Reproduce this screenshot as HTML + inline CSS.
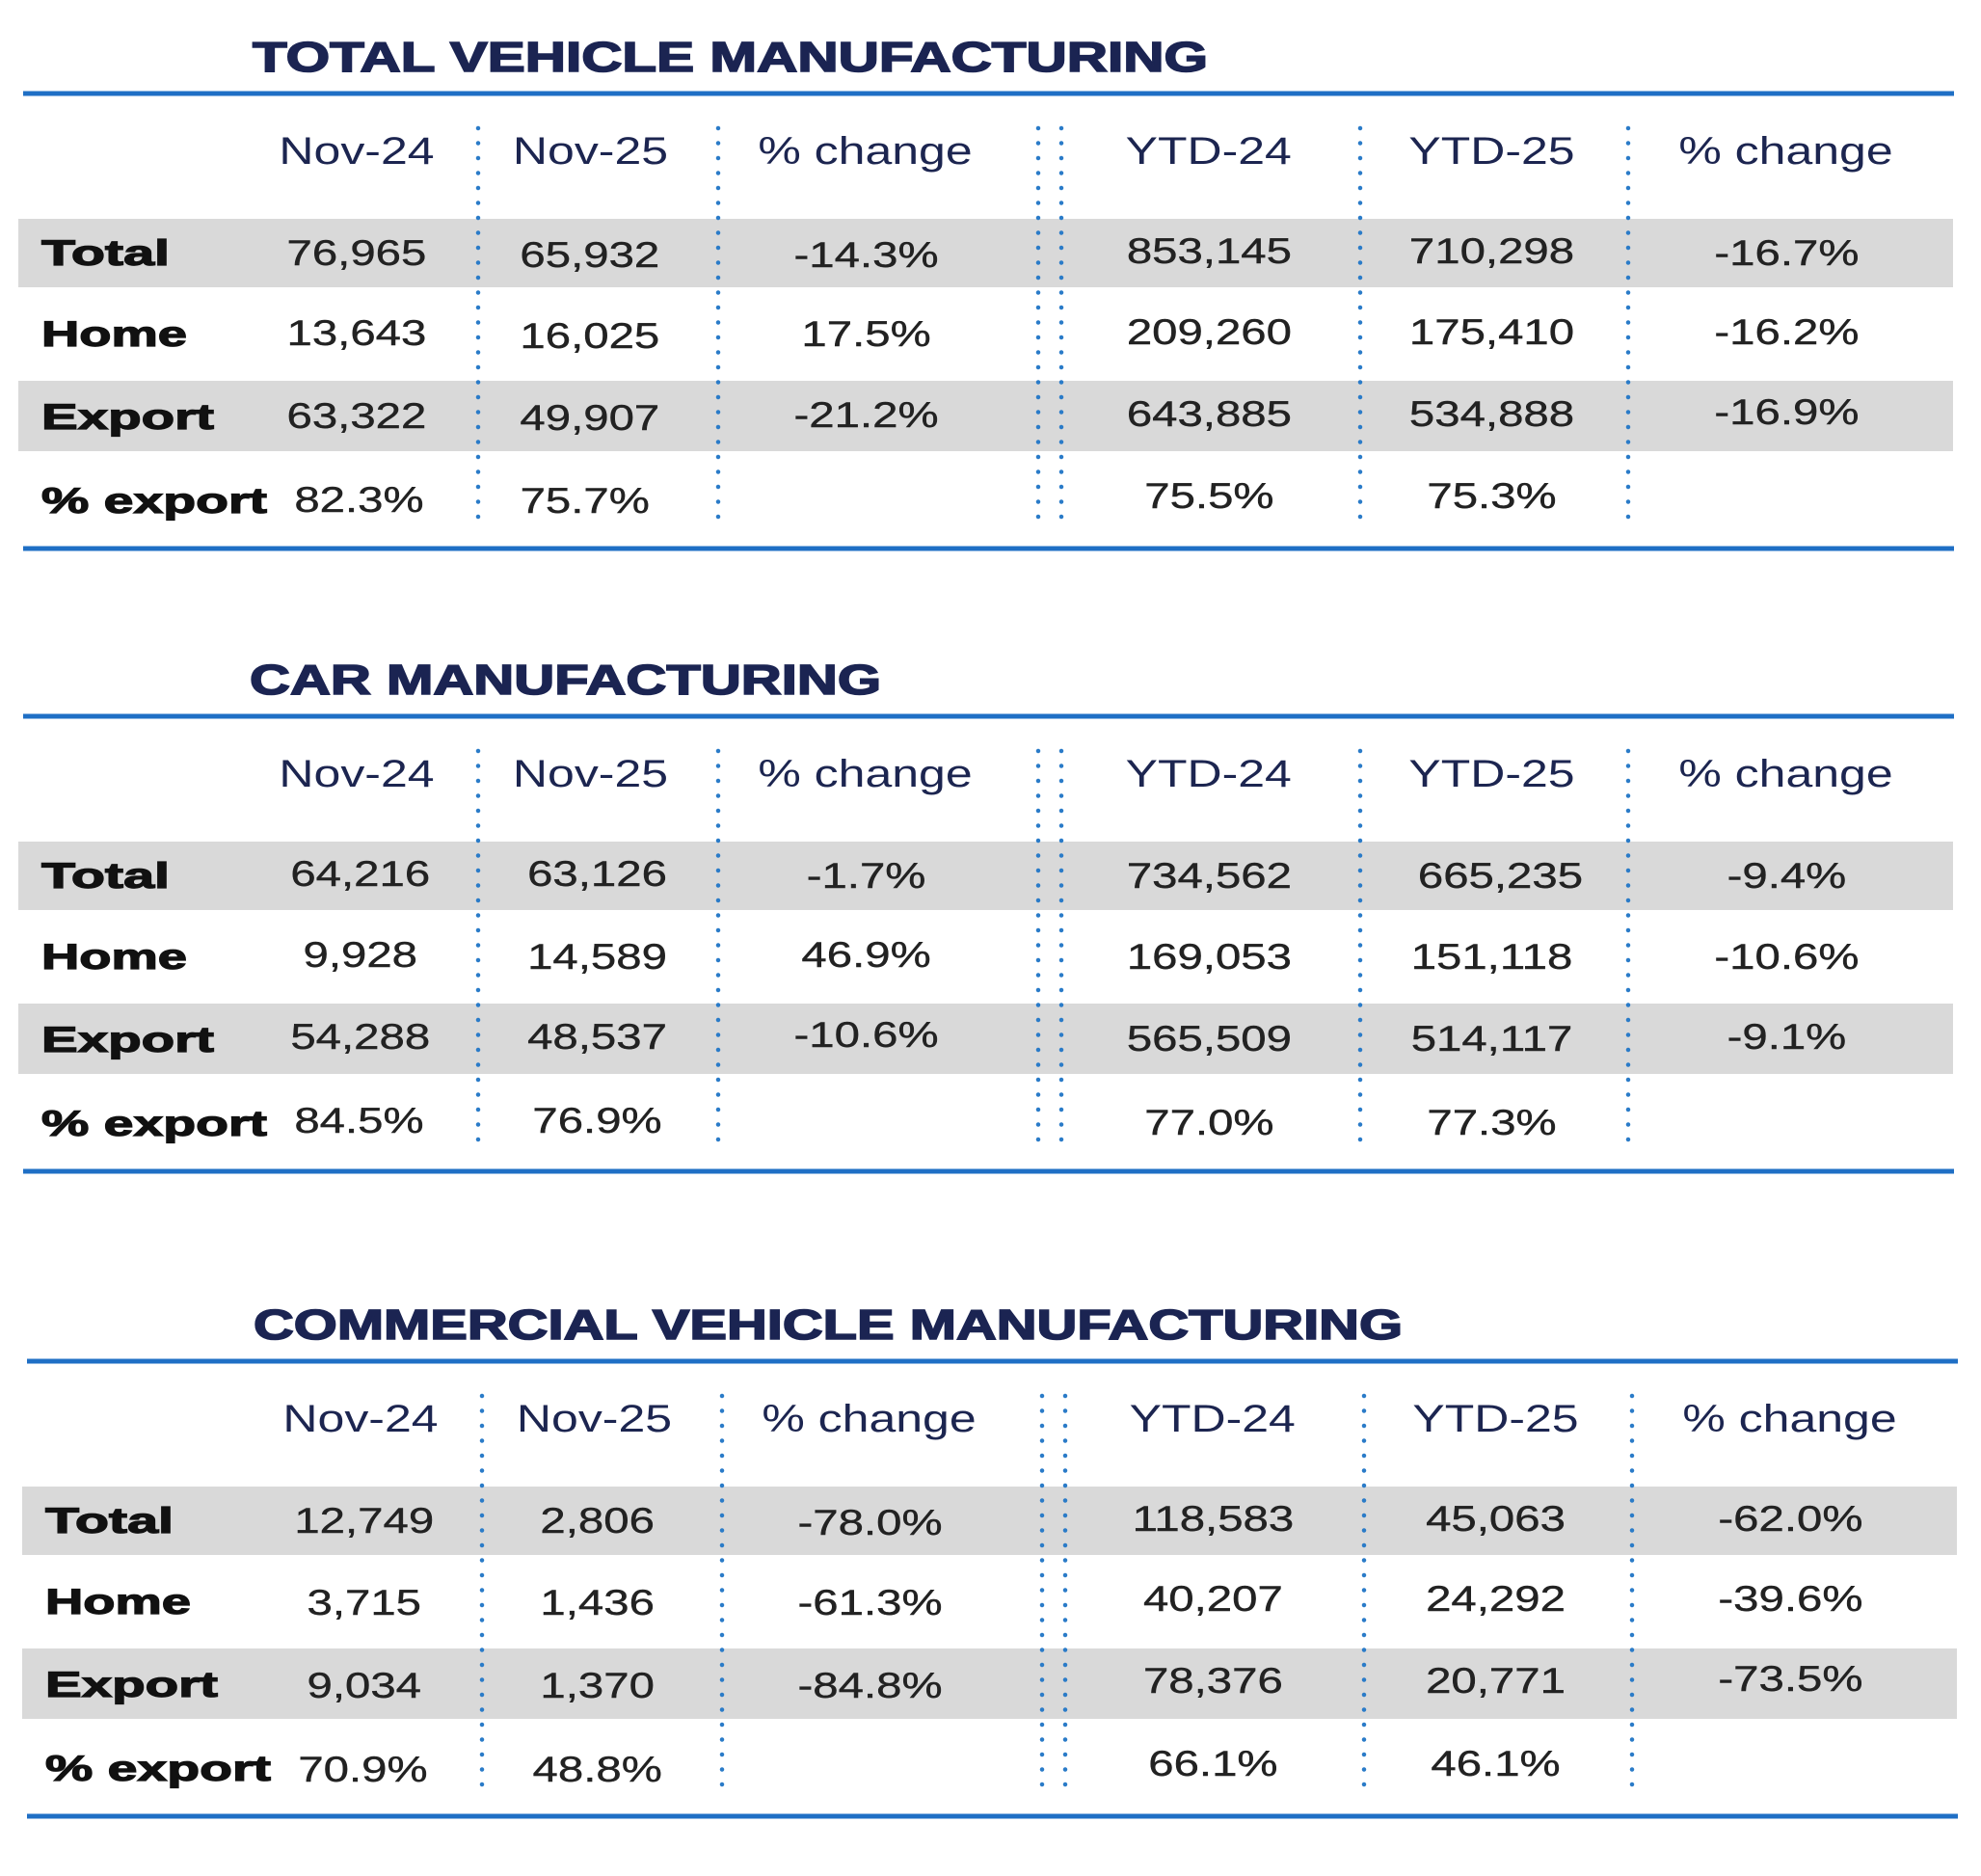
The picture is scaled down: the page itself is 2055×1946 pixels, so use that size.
<!DOCTYPE html>
<html><head><meta charset="utf-8"><style>
html,body{margin:0;padding:0;background:#fff}
svg{display:block}
.t{font-family:"Liberation Sans",sans-serif;font-weight:bold;fill:#1b2452;stroke:#1b2452;stroke-width:1.6;font-size:44px}
.h{font-family:"Liberation Sans",sans-serif;fill:#1c2550;font-size:40px;text-anchor:middle}
.n{font-family:"Liberation Sans",sans-serif;fill:#222;stroke:#222;stroke-width:0.4;font-size:37px;text-anchor:middle}
.l{font-family:"Liberation Sans",sans-serif;font-weight:bold;fill:#111;stroke:#111;stroke-width:1.2;font-size:37px}
.d{stroke:#2a7bc8;stroke-width:4.5;stroke-linecap:round;stroke-dasharray:0 15.5}
</style></head><body>
<svg width="2055" height="1946" viewBox="0 0 2055 1946" xmlns="http://www.w3.org/2000/svg">
<defs>
<g id="frame">
<rect x="24" y="-2.5" width="2003" height="5" fill="#1f6fc5"/>
<rect x="19" y="130" width="2007" height="71" fill="#d9d9d9"/>
<rect x="19" y="298" width="2007" height="73" fill="#d9d9d9"/>
<rect x="24" y="469.5" width="2003" height="5" fill="#1f6fc5"/>
<line class="d" x1="496" y1="36" x2="496" y2="445"/>
<line class="d" x1="745" y1="36" x2="745" y2="445"/>
<line class="d" x1="1077" y1="36" x2="1077" y2="445"/>
<line class="d" x1="1101" y1="36" x2="1101" y2="445"/>
<line class="d" x1="1411" y1="36" x2="1411" y2="445"/>
<line class="d" x1="1689" y1="36" x2="1689" y2="445"/>
<g transform="scale(1.25 1)">
<text class="h" x="296" y="73">Nov-24</text>
<text class="h" x="490" y="73">Nov-25</text>
<text class="h" x="718" y="73">% change</text>
<text class="h" x="1003" y="73">YTD-24</text>
<text class="h" x="1238" y="73">YTD-25</text>
<text class="h" x="1482" y="73">% change</text>
</g>
<text class="l" x="43" y="178" textLength="133" lengthAdjust="spacingAndGlyphs">Total</text>
<text class="l" x="43" y="262" textLength="151" lengthAdjust="spacingAndGlyphs">Home</text>
<text class="l" x="43" y="348" textLength="179" lengthAdjust="spacingAndGlyphs">Export</text>
<text class="l" x="43" y="435" textLength="234" lengthAdjust="spacingAndGlyphs">% export</text>
</g>
</defs>

<g transform="translate(0,97)">
<text class="t" x="262" y="-23" textLength="991" lengthAdjust="spacingAndGlyphs">TOTAL VEHICLE MANUFACTURING</text>
<use href="#frame"/>
<g transform="scale(1.28 1)">
<text class="n" x="289" y="178">76,965</text><text class="n" x="478" y="180">65,932</text><text class="n" x="702" y="180">-14.3%</text><text class="n" x="980" y="176">853,145</text><text class="n" x="1209" y="176">710,298</text><text class="n" x="1448" y="178">-16.7%</text>
<text class="n" x="289" y="261">13,643</text><text class="n" x="478" y="264">16,025</text><text class="n" x="702" y="262">17.5%</text><text class="n" x="980" y="260">209,260</text><text class="n" x="1209" y="260">175,410</text><text class="n" x="1448" y="260">-16.2%</text>
<text class="n" x="289" y="347">63,322</text><text class="n" x="478" y="349">49,907</text><text class="n" x="702" y="346">-21.2%</text><text class="n" x="980" y="345">643,885</text><text class="n" x="1209" y="345">534,888</text><text class="n" x="1448" y="343">-16.9%</text>
<text class="n" x="291" y="434">82.3%</text><text class="n" x="474" y="435">75.7%</text><text class="n" x="980" y="430">75.5%</text><text class="n" x="1209" y="430">75.3%</text>
</g>
</g>

<g transform="translate(0,743)">
<text class="t" x="259" y="-23" textLength="655" lengthAdjust="spacingAndGlyphs">CAR MANUFACTURING</text>
<use href="#frame"/>
<g transform="scale(1.28 1)">
<text class="n" x="292" y="176">64,216</text><text class="n" x="484" y="176">63,126</text><text class="n" x="702" y="178">-1.7%</text><text class="n" x="980" y="178">734,562</text><text class="n" x="1216" y="178">665,235</text><text class="n" x="1448" y="178">-9.4%</text>
<text class="n" x="292" y="260">9,928</text><text class="n" x="484" y="262">14,589</text><text class="n" x="702" y="260">46.9%</text><text class="n" x="980" y="262">169,053</text><text class="n" x="1209" y="262">151,118</text><text class="n" x="1448" y="262">-10.6%</text>
<text class="n" x="292" y="345">54,288</text><text class="n" x="484" y="345">48,537</text><text class="n" x="702" y="343">-10.6%</text><text class="n" x="980" y="347">565,509</text><text class="n" x="1209" y="347">514,117</text><text class="n" x="1448" y="345">-9.1%</text>
<text class="n" x="291" y="432">84.5%</text><text class="n" x="484" y="432">76.9%</text><text class="n" x="980" y="434">77.0%</text><text class="n" x="1209" y="434">77.3%</text>
</g>
</g>

<g transform="translate(4,1412)">
<text class="t" x="259" y="-23" textLength="1192" lengthAdjust="spacingAndGlyphs">COMMERCIAL VEHICLE MANUFACTURING</text>
<use href="#frame"/>
<g transform="scale(1.28 1)">
<text class="n" x="292" y="178">12,749</text><text class="n" x="481" y="178">2,806</text><text class="n" x="702" y="180">-78.0%</text><text class="n" x="980" y="176">118,583</text><text class="n" x="1209" y="176">45,063</text><text class="n" x="1448" y="176">-62.0%</text>
<text class="n" x="292" y="263">3,715</text><text class="n" x="481" y="263">1,436</text><text class="n" x="702" y="263">-61.3%</text><text class="n" x="980" y="259">40,207</text><text class="n" x="1209" y="259">24,292</text><text class="n" x="1448" y="259">-39.6%</text>
<text class="n" x="292" y="349">9,034</text><text class="n" x="481" y="349">1,370</text><text class="n" x="702" y="349">-84.8%</text><text class="n" x="980" y="344">78,376</text><text class="n" x="1209" y="344">20,771</text><text class="n" x="1448" y="342">-73.5%</text>
<text class="n" x="291" y="436">70.9%</text><text class="n" x="481" y="436">48.8%</text><text class="n" x="980" y="430">66.1%</text><text class="n" x="1209" y="430">46.1%</text>
</g>
</g>
</svg>
</body></html>
